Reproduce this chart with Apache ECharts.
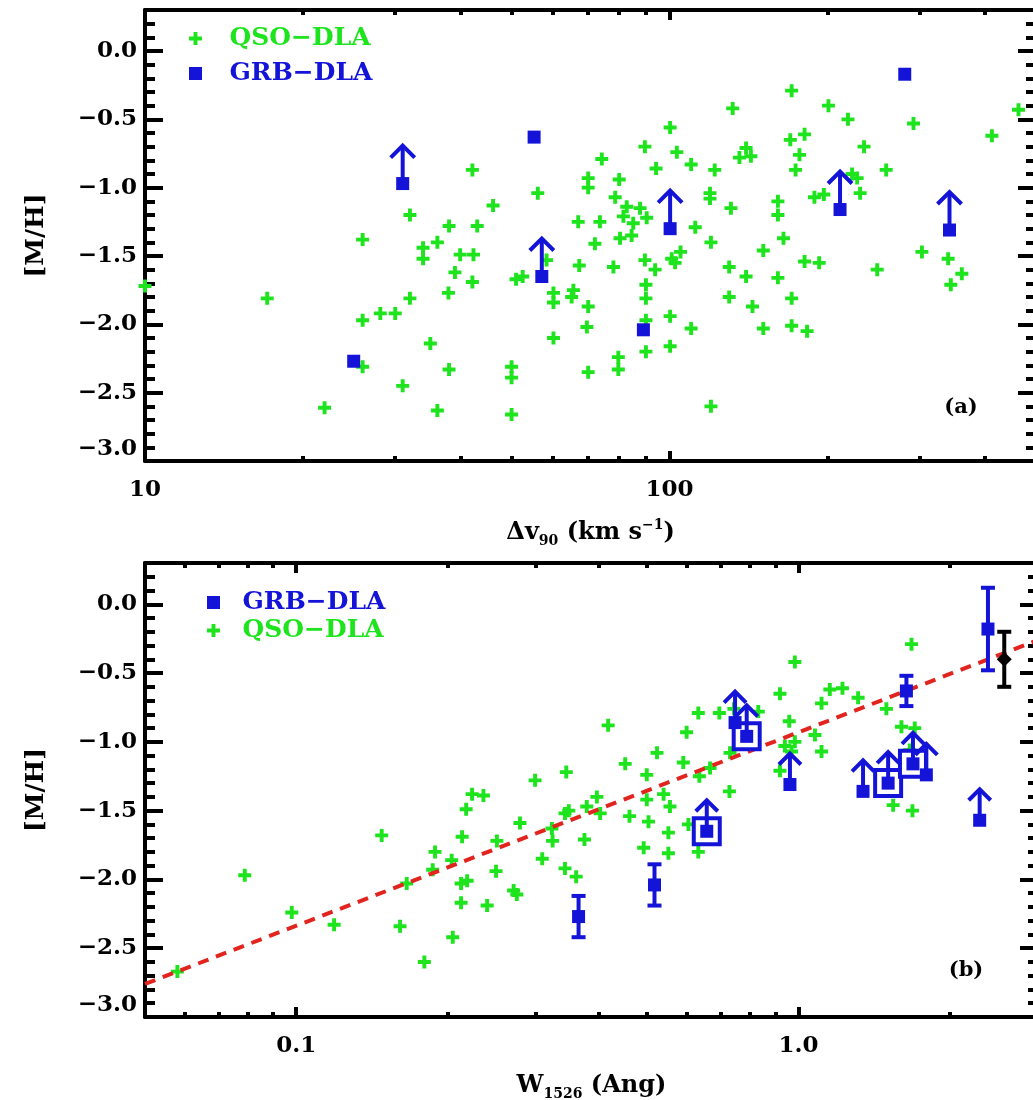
<!DOCTYPE html>
<html>
<head>
<meta charset="utf-8">
<title>[M/H] vs velocity width and W1526</title>
<script src="https://cdn.jsdelivr.net/npm/echarts@6/dist/echarts.min.js"></script>
<style>
  html, body { margin: 0; padding: 0; background: #fff; }
  #chart { width: 1033px; height: 1100px; }
</style>
</head>
<body>
<div id="chart"></div>
<script>
/* -------------------------------------------------------------------------- */
/*                                    Data                                    */
/* -------------------------------------------------------------------------- */

// panel (a): velocity width dv90 (km/s) vs [M/H]
const qsoDv = [
  17.1, 26.0, 32.0, 42.1, 46.1, 38.0, 43.0, 36.1, 33.9, 33.9, 39.9, 42.3, 39.0, 42.1, 37.9,
  32.0, 26.0, 28.1, 30.0, 35.0, 26.0, 38.0, 31.0, 22.0, 36.1, 50.0, 50.0, 50.0, 56.1, 51.0,
  52.5, 58.3, 60.1, 60.1, 65.6, 65.1, 70.0, 60.1, 69.6, 70.0, 79.9, 79.9, 90.2, 100.3, 90.2,
  100.3, 90.2, 90.2, 78.2, 67.3, 72.1, 67.0, 73.7, 74.3, 70.0, 70.0, 80.2, 78.8, 82.9, 81.7,
  87.9, 85.3, 90.5, 80.5, 84.7, 89.8, 94.3, 100.3, 103.3, 89.8, 93.9, 101.0, 10.0,
  463, 412, 292, 219, 201, 171, 132, 110, 122, 140, 136, 143, 170, 181, 177, 174, 235, 259,
  223, 228, 231, 189, 197, 119.5, 119.5, 131, 112, 120, 105, 102.5, 161, 161, 165, 151, 181,
  193, 130, 140, 161, 130, 144, 171, 110, 151, 171, 183, 120, 249, 303, 340, 361, 344
];
const qsoMhA = [
  -1.81, -1.38, -1.20, -0.87, -1.13, -1.28, -1.28, -1.40, -1.44, -1.52, -1.49, -1.49, -1.62, -1.69, -1.77,
  -1.81, -1.97, -1.92, -1.92, -2.14, -2.31, -2.33, -2.45, -2.61, -2.63, -2.66, -2.31, -2.39, -1.04, -1.67,
  -1.65, -1.53, -1.77, -1.84, -1.75, -1.80, -1.87, -2.10, -2.02, -2.35, -2.24, -2.33, -2.20, -2.16, -1.97,
  -1.94, -1.71, -1.81, -1.58, -1.57, -1.41, -1.25, -1.25, -0.79, -0.93, -1.00, -0.94, -1.07, -1.14, -1.21,
  -1.15, -1.26, -1.22, -1.37, -1.35, -0.70, -0.86, -0.56, -0.74, -1.53, -1.60, -1.52, -1.72,
  -0.43, -0.62, -0.53, -0.50, -0.40, -0.29, -0.42, -0.83, -0.87, -0.71, -0.78, -0.77, -0.65, -0.61, -0.76,
  -0.87, -0.70, -0.87, -0.90, -0.93, -1.04, -1.07, -1.05, -1.04, -1.08, -1.15, -1.29, -1.40, -1.47, -1.55,
  -1.10, -1.20, -1.37, -1.46, -1.54, -1.55, -1.58, -1.65, -1.66, -1.80, -1.87, -1.81, -2.03, -2.03, -2.01,
  -2.05, -2.60, -1.60, -1.47, -1.52, -1.63, -1.71
];
const grbDv = [31.0, 55.2, 57.1, 100.3, 25.0, 89.2, 281, 211.5, 342];
const grbMhA = [-0.97, -0.63, -1.65, -1.30, -2.27, -2.04, -0.17, -1.16, -1.31];
const grbLimA = [1, 0, 1, 1, 0, 0, 0, 1, 1]; // 1 = lower limit

// panel (b): equivalent width W1526 (Ang) vs [M/H]
const qsoW = [
  0.079, 0.058, 0.098, 0.119, 0.148, 0.161, 0.166, 0.180, 0.189, 0.187, 0.204, 0.205, 0.214, 0.218,
  0.224, 0.236, 0.213, 0.219, 0.213, 0.240, 0.251, 0.250, 0.271, 0.275, 0.279, 0.299, 0.309, 0.323,
  0.324, 0.345, 0.343, 0.361, 0.349, 0.343, 0.375, 0.379, 0.397, 0.403, 0.418, 0.452, 0.499, 0.499,
  0.461, 0.503, 0.492, 0.523, 0.984, 1.68, 0.919, 1.155, 1.224, 1.112, 1.315, 0.959, 1.497, 1.604,
  1.705, 1.079, 1.112, 0.984, 0.940, 0.969, 0.919, 0.632, 0.696, 0.599, 0.590, 0.667, 0.635, 0.729,
  0.731, 0.539, 0.555, 0.551, 0.604, 0.551, 0.632, 0.832, 1.544, 1.687, 1.666, 0.744
];
const qsoMhB = [
  -1.97, -2.67, -2.24, -2.33, -1.68, -2.34, -2.03, -2.60, -1.80, -1.93, -1.86, -2.42, -1.69, -1.49,
  -1.38, -1.39, -2.03, -2.01, -2.17, -2.19, -1.72, -1.94, -2.08, -2.11, -1.59, -1.28, -1.85, -1.63,
  -1.72, -1.22, -1.92, -1.98, -1.50, -1.52, -1.71, -1.47, -1.40, -1.52, -0.88, -1.16, -1.24, -1.42,
  -1.54, -1.58, -1.77, -1.08, -0.42, -0.29, -0.65, -0.62, -0.61, -0.72, -0.68, -0.85, -0.76, -0.89,
  -0.90, -0.95, -1.07, -1.00, -1.03, -1.07, -1.21, -0.79, -0.79, -0.93, -1.15, -1.19, -1.25, -1.36,
  -1.08, -1.38, -1.47, -1.66, -1.60, -1.81, -1.80, -0.78, -1.46, -1.50, -1.06, -0.76
];
const grbW = [0.365, 0.517, 0.657, 0.748, 0.789, 0.962, 1.345, 1.509, 1.691, 1.798, 1.641, 2.385, 2.296];
const grbMhB = [-2.27, -2.04, -1.65, -0.86, -0.96, -1.31, -1.36, -1.30, -1.16, -1.24, -0.63, -0.18, -1.57];
const grbErrB = [0.15, 0.15, 0, 0, 0, 0, 0, 0, 0, 0, 0.11, 0.30, 0];
const grbLimB = [0, 0, 1, 1, 1, 1, 1, 1, 1, 1, 0, 0, 1];
const grbBoxB = [0, 0, 1, 0, 1, 0, 0, 1, 1, 0, 0, 0, 0];
const refW = [2.57];
const refMh = [-0.40];
const refErr = [0.20];
const fitW = [0.05, 3.0];
const fitMh = [-2.76, -0.26];

// axis ticks
const dvMajor = [10, 100];
const dvMinor = [20, 30, 40, 50, 60, 70, 80, 90, 200, 300, 400];
const wMajor = [0.1, 1];
const wMinor = [0.06, 0.07, 0.08, 0.09, 0.2, 0.3, 0.4, 0.5, 0.6, 0.7, 0.8, 0.9, 2];

/* -------------------------------------------------------------------------- */
/*                                   Styles                                   */
/* -------------------------------------------------------------------------- */

const GREEN = '#1ee41e';
const BLUE = '#1414d8';
const RED = '#e2241e';
const FONT = 'DejaVu Serif';
const PLUS = 'path://M7,0H13V7H20V13H13V20H7V13H0V7H7Z';
const SQUARE = 'path://M0,0H10V10H0Z';

const zip = (xs, ys, ...rest) => xs.map((x, i) => [x, ys[i], ...rest.map(r => r[i])]);
const pick = (rows, flags) => rows.filter((_, i) => flags[i]);

const tickLine = { color: '#000', width: 4 };
const axisLine = { show: true, onZero: false, lineStyle: { color: '#000', width: 4 } };
const noLine = { show: false, onZero: false };
const labelFont = { color: '#000', fontFamily: FONT, fontWeight: 'bold', fontSize: 23 };
const titleStyle = {
  color: '#000',
  fontFamily: FONT,
  fontWeight: 'bold',
  fontSize: 24,
  rich: {
    m: { fontFamily: FONT, fontWeight: 'bold', fontSize: 24, lineHeight: 30, color: '#000' },
    s: { fontFamily: FONT, fontWeight: 'bold', fontSize: 14, verticalAlign: 'bottom', color: '#000' },
    u: { fontFamily: FONT, fontWeight: 'bold', fontSize: 14, verticalAlign: 'top', color: '#000' }
  }
};
const mhLabel = v => (v < 0 ? '\u2212' : '') + Math.abs(v).toFixed(1);

const xAxes = (gridIndex, min, max, major, minor, formatter, name, nameGap) => {
  const base = { gridIndex, type: 'log', min, max, splitLine: { show: false } };
  return [
    {
      ...base,
      position: 'bottom',
      name,
      nameLocation: 'middle',
      nameGap,
      nameTextStyle: titleStyle,
      axisLine,
      axisTick: { show: true, inside: true, length: 10, customValues: major, lineStyle: tickLine },
      axisLabel: { show: true, customValues: major, formatter, margin: 18, ...labelFont }
    },
    {
      ...base,
      position: 'bottom',
      axisLine: noLine,
      axisTick: { show: true, inside: true, length: 5, customValues: minor, lineStyle: tickLine },
      axisLabel: { show: false }
    },
    {
      ...base,
      position: 'top',
      axisLine,
      axisTick: { show: true, inside: true, length: 10, customValues: major, lineStyle: tickLine },
      axisLabel: { show: false }
    },
    {
      ...base,
      position: 'top',
      axisLine: noLine,
      axisTick: { show: true, inside: true, length: 5, customValues: minor, lineStyle: tickLine },
      axisLabel: { show: false }
    }
  ];
};

const yAxes = (gridIndex, nameGap) => {
  const base = {
    gridIndex,
    type: 'value',
    min: -3,
    max: 0.3,
    interval: 0.5,
    splitLine: { show: false },
    axisLine,
    axisTick: { show: true, inside: true, length: 18, lineStyle: tickLine },
    minorTick: { show: true, splitNumber: 5, length: 10, lineStyle: tickLine }
  };
  return [
    {
      ...base,
      position: 'left',
      name: '[M/H]',
      nameLocation: 'middle',
      nameRotate: 90,
      nameGap,
      nameTextStyle: { color: '#000', fontFamily: FONT, fontWeight: 'bold', fontSize: 25 },
      axisLabel: {
        formatter: mhLabel,
        margin: 8,
        showMaxLabel: false,
        verticalAlignMinLabel: 'bottom',
        ...labelFont
      }
    },
    { ...base, position: 'right', axisLabel: { show: false } }
  ];
};

/* -------------------------------------------------------------------------- */
/*                               Custom renders                               */
/* -------------------------------------------------------------------------- */

const limitArrow = (len, half, drop) => (params, api) => {
  const p = api.coord([api.value(0), api.value(1)]);
  const tip = p[1] - len;
  const style = { stroke: BLUE, lineWidth: 4, fill: null };
  return {
    type: 'group',
    children: [
      { type: 'line', shape: { x1: p[0], y1: p[1], x2: p[0], y2: tip + 3 }, style },
      {
        type: 'polyline',
        shape: { points: [[p[0] - half, tip + drop], [p[0], tip + 1], [p[0] + half, tip + drop]] },
        style
      }
    ]
  };
};

const errorBar = (color, cap) => (params, api) => {
  const lo = api.coord([api.value(0), api.value(1) - api.value(2)]);
  const hi = api.coord([api.value(0), api.value(1) + api.value(2)]);
  const style = { stroke: color, lineWidth: 4 };
  return {
    type: 'group',
    children: [
      { type: 'line', shape: { x1: lo[0], y1: lo[1], x2: hi[0], y2: hi[1] }, style },
      { type: 'line', shape: { x1: lo[0] - cap, y1: lo[1], x2: lo[0] + cap, y2: lo[1] }, style },
      { type: 'line', shape: { x1: hi[0] - cap, y1: hi[1], x2: hi[0] + cap, y2: hi[1] }, style }
    ]
  };
};

/* -------------------------------------------------------------------------- */
/*                                    Chart                                   */
/* -------------------------------------------------------------------------- */

const metallicityChartInit = () => {
  const $chartEl = document.getElementById('chart');
  const chart = echarts.init($chartEl, null, { renderer: 'canvas' });

  const grbRowsA = zip(grbDv, grbMhA);
  const grbRowsB = zip(grbW, grbMhB, grbErrB);

  const legendItems = (first, second) => [first, second].map(n => ({
    name: n,
    icon: n === 'QSO\u2212DLA' ? PLUS : SQUARE,
    textStyle: { color: n === 'QSO\u2212DLA' ? GREEN : BLUE }
  }));

  const legendBase = {
    orient: 'vertical',
    padding: 0,
    itemHeight: 13,
    selectedMode: false,
    textStyle: { fontFamily: FONT, fontWeight: 'bold', fontSize: 25, lineHeight: 24 }
  };

  const option = {
    animation: false,
    backgroundColor: '#fff',
    textStyle: { fontFamily: FONT },
    grid: [
      { left: 145, top: 10, width: 891, height: 451, containLabel: false, outerBoundsMode: 'none' },
      { left: 145, top: 563, width: 893, height: 454, containLabel: false, outerBoundsMode: 'none' }
    ],
    xAxis: [
      ...xAxes(0, 10, 500, dvMajor, dvMinor, v => String(Math.round(v)),
        '{m|\u0394v}{s|90}{m| (km s}{u|\u22121}{m|)}', 57),
      ...xAxes(1, 0.05, 3, wMajor, wMinor, v => v.toFixed(1),
        '{m|W}{s|1526}{m| (Ang)}', 54)
    ],
    yAxis: [...yAxes(0, 96), ...yAxes(1, 96)],
    legend: [
      {
        ...legendBase,
        left: 189,
        top: 26,
        itemWidth: 58,
        itemGap: 10,
        data: legendItems('QSO\u2212DLA', 'GRB\u2212DLA')
      },
      {
        ...legendBase,
        left: 207,
        top: 590,
        itemWidth: 48,
        itemGap: 3,
        data: legendItems('GRB\u2212DLA', 'QSO\u2212DLA')
      }
    ],
    graphic: [
      {
        type: 'text',
        x: 961,
        y: 408,
        style: { text: '(a)', font: 'bold 21px "DejaVu Serif"', fill: '#000', textAlign: 'center', textVerticalAlign: 'middle' }
      },
      {
        type: 'text',
        x: 966,
        y: 971,
        style: { text: '(b)', font: 'bold 21px "DejaVu Serif"', fill: '#000', textAlign: 'center', textVerticalAlign: 'middle' }
      }
    ],
    series: [
      // panel (a)
      {
        name: 'QSO\u2212DLA',
        type: 'scatter',
        xAxisIndex: 0,
        yAxisIndex: 0,
        symbol: PLUS,
        symbolSize: 13,
        itemStyle: { color: GREEN, opacity: 1 },
        data: zip(qsoDv, qsoMhA),
        z: 2
      },
      {
        name: 'limits-a',
        type: 'custom',
        xAxisIndex: 0,
        yAxisIndex: 0,
        renderItem: limitArrow(39, 12, 13),
        data: pick(grbRowsA, grbLimA),
        z: 4
      },
      {
        name: 'GRB\u2212DLA',
        type: 'scatter',
        xAxisIndex: 0,
        yAxisIndex: 0,
        symbol: 'rect',
        symbolSize: 13,
        itemStyle: { color: BLUE, opacity: 1 },
        data: grbRowsA,
        z: 5
      },
      // panel (b)
      {
        name: 'QSO\u2212DLA',
        type: 'scatter',
        xAxisIndex: 4,
        yAxisIndex: 2,
        symbol: PLUS,
        symbolSize: 13,
        itemStyle: { color: GREEN, opacity: 1 },
        data: zip(qsoW, qsoMhB),
        z: 2
      },
      {
        name: 'fit',
        type: 'line',
        xAxisIndex: 4,
        yAxisIndex: 2,
        symbol: 'none',
        lineStyle: { color: RED, width: 4, type: [11, 8] },
        data: zip(fitW, fitMh),
        z: 3
      },
      {
        name: 'boxes',
        type: 'scatter',
        xAxisIndex: 4,
        yAxisIndex: 2,
        symbol: 'rect',
        symbolSize: 26,
        itemStyle: { color: '#fff', borderColor: BLUE, borderWidth: 4, opacity: 1 },
        data: pick(grbRowsB, grbBoxB),
        z: 4
      },
      {
        name: 'limits-b',
        type: 'custom',
        xAxisIndex: 4,
        yAxisIndex: 2,
        renderItem: limitArrow(32, 11, 12),
        data: pick(grbRowsB, grbLimB),
        z: 5
      },
      {
        name: 'errors-b',
        type: 'custom',
        xAxisIndex: 4,
        yAxisIndex: 2,
        renderItem: errorBar(BLUE, 7),
        data: grbRowsB.filter(r => r[2] > 0),
        z: 5
      },
      {
        name: 'GRB\u2212DLA',
        type: 'scatter',
        xAxisIndex: 4,
        yAxisIndex: 2,
        symbol: 'rect',
        symbolSize: 13,
        itemStyle: { color: BLUE, opacity: 1 },
        data: grbRowsB,
        z: 6
      },
      {
        name: 'ref-error',
        type: 'custom',
        xAxisIndex: 4,
        yAxisIndex: 2,
        renderItem: errorBar('#000', 7),
        data: zip(refW, refMh, refErr),
        z: 6
      },
      {
        name: 'ref',
        type: 'scatter',
        xAxisIndex: 4,
        yAxisIndex: 2,
        symbol: 'diamond',
        symbolSize: 15,
        itemStyle: { color: '#000', opacity: 1 },
        data: zip(refW, refMh),
        z: 7
      }
    ]
  };

  chart.setOption(option);
};

metallicityChartInit();
</script>
</body>
</html>
